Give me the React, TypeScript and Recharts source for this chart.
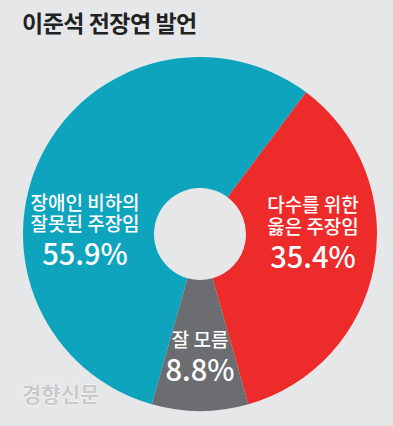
import { Pie, PieChart, Cell } from "recharts"

const categories = ["장애인 비하의\n잘못된 주장임", "다수를 위한\n옳은 주장임", "잘 모름"]
const shares = [55.9, 35.4, 8.8]
const percentLabels = ["55.9%", "35.4%", "8.8%"]

const COLORS = ["#0fa4be", "#ee2b2b", "#6c6d71"]
const BG = "#e6e7e9"
const FONT = "'Noto Sans CJK KR', 'Noto Sans', sans-serif"

// where each label block sits, relative to the pie centre (angle in degrees, radius in px)
const LABEL_SPOTS = [
  { angle: 179, r: 115 },
  { angle: 0, r: 113 },
  { angle: -90, r: 124 },
]

const data = categories.map((name, i) => ({ name, value: shares[i], pct: percentLabels[i] }))

const RAD = Math.PI / 180

function renderLabel(props: any) {
  const { cx, cy, index } = props
  const spot = LABEL_SPOTS[index]
  const x = cx + spot.r * Math.cos(spot.angle * RAD)
  const y = cy - spot.r * Math.sin(spot.angle * RAD)
  const lines = data[index].name.split("\n")
  const lineGap = 21.5
  const top = y - (lines.length * lineGap + 30) / 2
  return (
    <text
      key={`lbl-${index}`}
      x={x}
      y={top + lineGap - 7}
      textAnchor="middle"
      fill="#ffffff"
      fontFamily={FONT}
      fontWeight={500}
      fontSize={19}
    >
      {lines.map((ln, j) => (
        <tspan key={j} x={x} dy={j === 0 ? 0 : lineGap}>
          {ln}
        </tspan>
      ))}
      <tspan x={x} dy={34} fontSize={29}>
        {data[index].pct}
      </tspan>
    </text>
  )
}

export default function App() {
  return (
    <div
      style={{
        position: "absolute",
        left: 0,
        top: 0,
        width: 393,
        height: 426,
        background: BG,
        overflow: "hidden",
      }}
    >
      <div
        style={{
          position: "absolute",
          left: 22,
          top: 5,
          fontFamily: FONT,
          fontWeight: 700,
          fontSize: 23,
          color: "#222222",
          letterSpacing: -0.5,
        }}
      >
        이준석 전장연 발언
      </div>
      <PieChart width={393} height={426} margin={{ top: 0, right: 0, bottom: 0, left: 0 }}>
        <Pie
          data={data}
          dataKey="value"
          nameKey="name"
          cx={200}
          cy={234}
          innerRadius={46}
          outerRadius={177}
          startAngle={254.2}
          endAngle={-105.8}
          stroke="none"
          label={renderLabel}
          labelLine={false}
          isAnimationActive={false}
        >
          {data.map((d, i) => (
            <Cell key={d.name} fill={COLORS[i]} />
          ))}
        </Pie>
        <text
          x={22}
          y={402}
          fontFamily={FONT}
          fontSize={21}
          fontWeight={700}
          fill="#c9cacc"
          stroke="#f7f7f7"
          strokeWidth={1.2}
          style={{ paintOrder: "stroke" }}
        >
          경향신문
        </text>
      </PieChart>
    </div>
  )
}
